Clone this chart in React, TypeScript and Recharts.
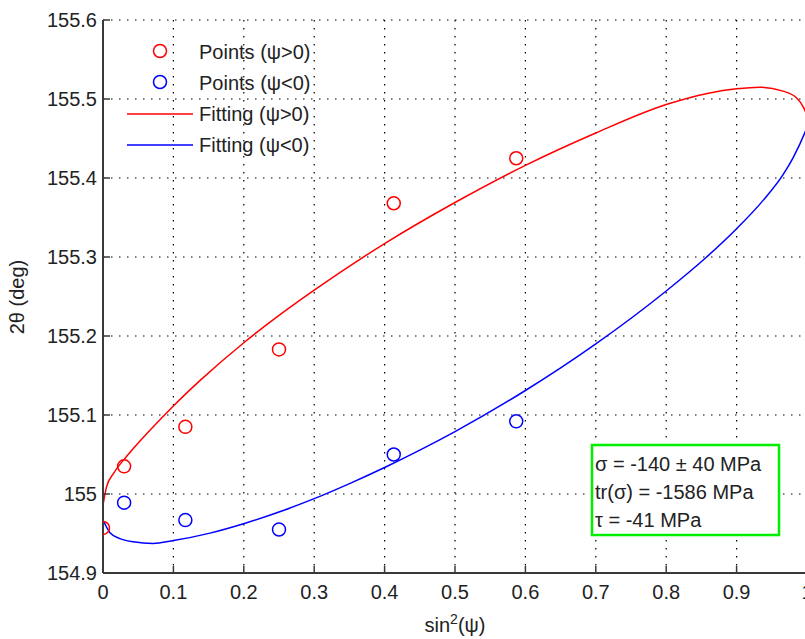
import React from 'react';
import { ComposedChart, Line, Scatter, XAxis, YAxis, CartesianGrid } from 'recharts';

// Measured points: sin^2(psi) and 2theta (deg)
const pointsPosX = [0, 0.030, 0.117, 0.250, 0.413, 0.587];
const pointsPosY = [154.957, 155.035, 155.085, 155.183, 155.368, 155.425];
const pointsNegX = [0.030, 0.117, 0.250, 0.413, 0.587];
const pointsNegY = [154.989, 154.967, 154.955, 155.050, 155.092];

// Fitted curves
const fitPosX = [0, 0.005, 0.015, 0.031, 0.043, 0.067, 0.1, 0.138, 0.2, 0.25, 0.3, 0.4, 0.5, 0.6, 0.7, 0.8, 0.86, 0.9, 0.933, 0.966, 0.985, 0.995, 1.0];
const fitPosY = [154.986, 155.009, 155.026, 155.045, 155.0575, 155.081, 155.1115, 155.1438, 155.1915, 155.226, 155.258, 155.317, 155.369, 155.416, 155.457, 155.493, 155.5074, 155.513, 155.515, 155.510, 155.5015, 155.4895, 155.4795];
const fitNegX = [0, 0.01, 0.024, 0.043, 0.071, 0.1, 0.152, 0.202, 0.256, 0.3, 0.351, 0.403, 0.45, 0.5, 0.6, 0.7, 0.8, 0.857, 0.9, 0.938, 0.966, 0.98, 0.997, 1.0];
const fitNegY = [154.967, 154.951, 154.9435, 154.9395, 154.9375, 154.9411, 154.9505, 154.963, 154.9791, 154.9941, 155.0135, 155.0348, 155.0555, 155.079, 155.131, 155.190, 155.257, 155.2997, 155.3358, 155.372, 155.4042, 155.4252, 155.4575, 155.4644];

const xTicks = [0, 0.1, 0.2, 0.3, 0.4, 0.5, 0.6, 0.7, 0.8, 0.9, 1];
const yTicks = [154.9, 155.0, 155.1, 155.2, 155.3, 155.4, 155.5, 155.6];

const legendLabels = ['Points (\u03c8>0)', 'Points (\u03c8<0)', 'Fitting (\u03c8>0)', 'Fitting (\u03c8<0)'];
const annotationLines = ['\u03c3 = -140 \u00b1 40 MPa', 'tr(\u03c3) = -1586 MPa', '\u03c4 = -41 MPa'];
const xLabelMain = 'sin';
const xLabelSup = '2';
const xLabelTail = '(\u03c8)';
const yLabel = '2\u03b8 (deg)';

const zip = (xs: number[], ys: number[]) => xs.map((x, i) => ({ x, y: ys[i] }));
const posPts = zip(pointsPosX, pointsPosY);
const negPts = zip(pointsNegX, pointsNegY);
const posFit = zip(fitPosX, fitPosY);
const negFit = zip(fitNegX, fitNegY);

const FONT = '"Liberation Sans", Arial, Helvetica, sans-serif';
const RED = '#ff0000';
const BLUE = '#0000ff';
const AXIS = '#3a3a3a';

const fmt = (v: number) => String(Number(v.toFixed(1)));

const YTick = (props: any) => {
  const { x, y, payload } = props;
  return (
    <g>
      <line x1={x + 6} x2={x + 13} y1={y} y2={y} stroke={AXIS} strokeWidth={1.5} />
      <text x={x} y={y + 7} textAnchor="end" fontFamily={FONT} fontSize={20} fill="#222">
        {fmt(payload.value)}
      </text>
    </g>
  );
};

const XTick = (props: any) => {
  const { x, y, payload } = props;
  return (
    <g>
      <line x1={x} x2={x} y1={y} y2={y - 7} stroke={AXIS} strokeWidth={1.5} />
      <text x={x} y={y + 26} textAnchor="middle" fontFamily={FONT} fontSize={20} fill="#222">
        {fmt(payload.value)}
      </text>
    </g>
  );
};

const makeCircle = (color: string) => (props: any) => (
  <circle cx={props.cx} cy={props.cy} r={6.5} fill="none" stroke={color} strokeWidth={1.5} />
);

export default function App() {
  return (
    <div style={{ position: 'absolute', left: 0, top: 0, width: 805, height: 639, overflow: 'hidden', background: '#fff' }}>
      <ComposedChart
        width={820}
        height={639}
        margin={{ top: 20, left: 0, right: 13, bottom: 0 }}
        style={{ fontFamily: FONT }}
      >
        <CartesianGrid stroke="#000" strokeDasharray="1.5 6.5" strokeWidth={1.2} horizontalValues={yTicks} verticalValues={xTicks} />
        <XAxis
          type="number"
          dataKey="x"
          domain={[0, 1]}
          ticks={xTicks}
          height={66}
          tickSize={0}
          tickMargin={0}
          tickLine={false}
          axisLine={{ stroke: AXIS, strokeWidth: 2 }}
          tick={<XTick />}
          interval={0}
          allowDataOverflow
        />
        <YAxis
          type="number"
          dataKey="y"
          domain={[154.9, 155.6]}
          ticks={yTicks}
          width={103}
          tickSize={0}
          tickMargin={6}
          tickLine={false}
          axisLine={{ stroke: AXIS, strokeWidth: 2 }}
          tick={<YTick />}
          interval={0}
          allowDataOverflow
        />
        <Line data={posFit} dataKey="y" type="monotone" stroke={RED} strokeWidth={1.5} dot={false} isAnimationActive={false} />
        <Line data={negFit} dataKey="y" type="monotone" stroke={BLUE} strokeWidth={1.5} dot={false} isAnimationActive={false} />
        <Scatter data={negPts} dataKey="y" shape={makeCircle(BLUE)} isAnimationActive={false} />
        <Scatter data={posPts} dataKey="y" shape={makeCircle(RED)} isAnimationActive={false} />
      </ComposedChart>
      <svg width={805} height={639} style={{ position: 'absolute', left: 0, top: 0, pointerEvents: 'none' }}>
        {/* legend */}
        <circle cx={160} cy={51} r={6.5} fill="none" stroke={RED} strokeWidth={1.5} />
        <circle cx={160} cy={82} r={6.5} fill="none" stroke={BLUE} strokeWidth={1.5} />
        <line x1={127} x2={193} y1={114} y2={114} stroke={RED} strokeWidth={1.5} />
        <line x1={127} x2={193} y1={145} y2={145} stroke={BLUE} strokeWidth={1.5} />
        {legendLabels.map((t, i) => (
          <text key={t} x={199} y={59 + i * 31} fontFamily={FONT} fontSize={20} fill="#222">{t}</text>
        ))}
        {/* annotation box */}
        <rect x={592} y={445} width={187} height={90} fill="#fff" stroke="#00ee00" strokeWidth={2.5} />
        {annotationLines.map((t, i) => (
          <text key={t} x={595} y={471 + i * 28} fontFamily={FONT} fontSize={20} fill="#222">{t}</text>
        ))}
        {/* axis labels */}
        <text x={455} y={632} textAnchor="middle" fontFamily={FONT} fontSize={20} fill="#222">
          {xLabelMain}
          <tspan dy={-8} fontSize={14}>{xLabelSup}</tspan>
          <tspan dy={8}>{xLabelTail}</tspan>
        </text>
        <text x={24} y={297} textAnchor="middle" fontFamily={FONT} fontSize={20} fill="#222" transform="rotate(-90 24 297)">
          {yLabel}
        </text>
      </svg>
    </div>
  );
}
